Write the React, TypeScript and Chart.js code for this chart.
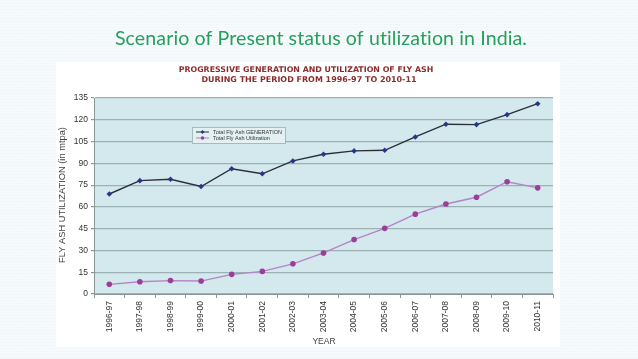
import React, { useEffect, useRef } from "react";
import { Chart, registerables } from "chart.js";

Chart.register(...registerables);

const years = [
  "1996-97", "1997-98", "1998-99", "1999-00", "2000-01", "2001-02", "2002-03", "2003-04",
  "2004-05", "2005-06", "2006-07", "2007-08", "2008-09", "2009-10", "2010-11",
];
const generation = [68.88, 78.06, 78.99, 74.03, 86.29, 82.81, 91.65, 96.29, 98.57, 98.97, 108.15, 116.94, 116.69, 123.54, 131.09];
const utilization = [6.64, 8.43, 9.22, 8.91, 13.54, 15.57, 20.79, 28.29, 37.49, 45.22, 55.01, 61.98, 66.64, 77.33, 73.13];
const genLabel = "Total Fly Ash GENERATION";
const utilLabel = "Total Fly Ash Utilization";
const pageTitle = "Scenario of Present status of utilization in India.";
const chartTitle1 = "PROGRESSIVE GENERATION AND UTILIZATION OF FLY ASH";
const chartTitle2 = "DURING THE PERIOD FROM 1996-97 TO 2010-11";
const yTitle = "FLY ASH UTILIZATION (in mtpa)";
const xTitle = "YEAR";

const W = 638;
const H = 359;

function fitFont(ctx: CanvasRenderingContext2D, text: string, weight: string, family: string, target: number) {
  ctx.font = `${weight} 20px ${family}`;
  const w = ctx.measureText(text).width;
  const size = (20 * target) / w;
  ctx.font = `${weight} ${size.toFixed(2)}px ${family}`;
}

const decorPlugin = {
  id: "decor",
  beforeDraw(chart: any) {
    const ctx = chart.ctx as CanvasRenderingContext2D;
    const a = chart.chartArea;
    ctx.save();
    // page background with faint dots
    ctx.fillStyle = "#f6fafc";
    ctx.fillRect(0, 0, W, H);
    ctx.fillStyle = "#e9f2f5";
    for (let y = 0; y < H; y += 3) {
      for (let x = (y / 3) % 2 ? 1.5 : 0; x < W; x += 3) {
        ctx.fillRect(x, y, 1, 1);
      }
    }
    // white picture box
    ctx.fillStyle = "#ffffff";
    ctx.fillRect(56, 62, 504, 285);
    // plot area fill
    ctx.fillStyle = "#d3e9ed";
    ctx.fillRect(a.left, a.top, a.right - a.left, a.bottom - a.top);

    // page title
    ctx.fillStyle = "#25a05c";
    ctx.textAlign = "center";
    ctx.textBaseline = "middle";
    (ctx as any).letterSpacing = "0.1px";
    fitFont(ctx, pageTitle, "normal", "Lato, 'Open Sans', sans-serif", 412);
    ctx.fillText(pageTitle, 321, 39);
    (ctx as any).letterSpacing = "0px";

    // chart title
    ctx.fillStyle = "#8c2b2b";
    fitFont(ctx, chartTitle1, "bold", "'DejaVu Sans', Verdana, sans-serif", 255);
    ctx.fillText(chartTitle1, 306, 70);
    fitFont(ctx, chartTitle2, "bold", "'DejaVu Sans', Verdana, sans-serif", 215);
    ctx.fillText(chartTitle2, 309, 79.5);

    // axis titles
    ctx.fillStyle = "#444444";
    ctx.font = "normal 8.5px Arial, 'Liberation Sans', sans-serif";
    ctx.fillText(xTitle, 324, 342);
    ctx.translate(62, 195);
    ctx.rotate(-Math.PI / 2);
    fitFont(ctx, yTitle, "normal", "Arial, 'Liberation Sans', sans-serif", 136);
    ctx.fillText(yTitle, 0, 0);
    ctx.restore();
  },
  afterDraw(chart: any) {
    const ctx = chart.ctx as CanvasRenderingContext2D;
    ctx.save();
    const bx = 192, by = 127, bw = 93, bh = 16;
    ctx.fillStyle = "#e4f1f3";
    ctx.fillRect(bx, by, bw, bh);
    ctx.strokeStyle = "#9aaeb2";
    ctx.lineWidth = 0.8;
    ctx.strokeRect(bx + 0.5, by + 0.5, bw, bh);
    const rows = [
      { label: genLabel, line: "#2e2e3a", marker: "#28358a", diamond: true, y: by + 5 },
      { label: utilLabel, line: "#b07fc4", marker: "#9a3e9a", diamond: false, y: by + 11 },
    ];
    for (const r of rows) {
      ctx.strokeStyle = r.line;
      ctx.lineWidth = 1;
      ctx.beginPath();
      ctx.moveTo(bx + 4, r.y);
      ctx.lineTo(bx + 17, r.y);
      ctx.stroke();
      ctx.fillStyle = r.marker;
      ctx.beginPath();
      if (r.diamond) {
        ctx.moveTo(bx + 10.5, r.y - 2);
        ctx.lineTo(bx + 12.5, r.y);
        ctx.lineTo(bx + 10.5, r.y + 2);
        ctx.lineTo(bx + 8.5, r.y);
        ctx.closePath();
      } else {
        ctx.arc(bx + 10.5, r.y, 1.8, 0, Math.PI * 2);
      }
      ctx.fill();
      ctx.fillStyle = "#333333";
      ctx.textAlign = "left";
      ctx.textBaseline = "middle";
      ctx.font = "normal 5.5px Arial, 'Liberation Sans', sans-serif";
      ctx.fillText(r.label, bx + 21, r.y + 0.3);
    }
    ctx.restore();
  },
};

export default function App() {
  const ref = useRef<HTMLCanvasElement | null>(null);
  useEffect(() => {
    if (!ref.current) return;
    const chart = new Chart(ref.current, {
      type: "line",
      data: {
        labels: years,
        datasets: [
          {
            label: genLabel,
            data: generation,
            borderColor: "#2e2e3a",
            borderWidth: 1.4,
            pointStyle: "rectRot",
            pointRadius: 2.8,
            pointBackgroundColor: "#28358a",
            pointBorderColor: "#28358a",
            pointBorderWidth: 0,
            tension: 0,
          },
          {
            label: utilLabel,
            data: utilization,
            borderColor: "#b584c6",
            borderWidth: 1.4,
            pointStyle: "circle",
            pointRadius: 2.8,
            pointBackgroundColor: "#9a3e9a",
            pointBorderColor: "#9a3e9a",
            pointBorderWidth: 0,
            tension: 0,
          },
        ],
      },
      options: {
        responsive: false,
        animation: false,
        devicePixelRatio: 1,
        layout: { padding: { top: 98, right: 85, left: 0, bottom: 0 } },
        plugins: { legend: { display: false }, tooltip: { enabled: false }, title: { display: false } },
        scales: {
          x: {
            type: "category",
            offset: true,
            grid: { display: true, drawOnChartArea: false, tickLength: 4, color: "#8a9698", offset: true },
            border: { display: true, color: "#8a9698" },
            ticks: {
              maxRotation: 90,
              minRotation: 90,
              autoSkip: false,
              padding: 3,
              color: "#333333",
              font: { family: "Arial, 'Liberation Sans', sans-serif", size: 8.5 },
            },
            afterFit: (s: any) => { s.height = 65; },
          },
          y: {
            min: 0,
            max: 135,
            ticks: {
              stepSize: 15,
              padding: 3,
              color: "#333333",
              font: { family: "Arial, 'Liberation Sans', sans-serif", size: 8.5 },
            },
            grid: { color: "#9bb2b5", lineWidth: 1.2, tickLength: 3, tickColor: "#8a9698" },
            border: { display: true, color: "#8a9698" },
            afterFit: (s: any) => { s.width = 94; },
          },
        },
      },
      plugins: [decorPlugin],
    });
    return () => chart.destroy();
  }, []);
  return (
    <div style={{ position: "fixed", left: 0, top: 0, width: W, height: H }}>
      <canvas ref={ref} width={W} height={H} style={{ display: "block", width: W, height: H }} />
    </div>
  );
}
